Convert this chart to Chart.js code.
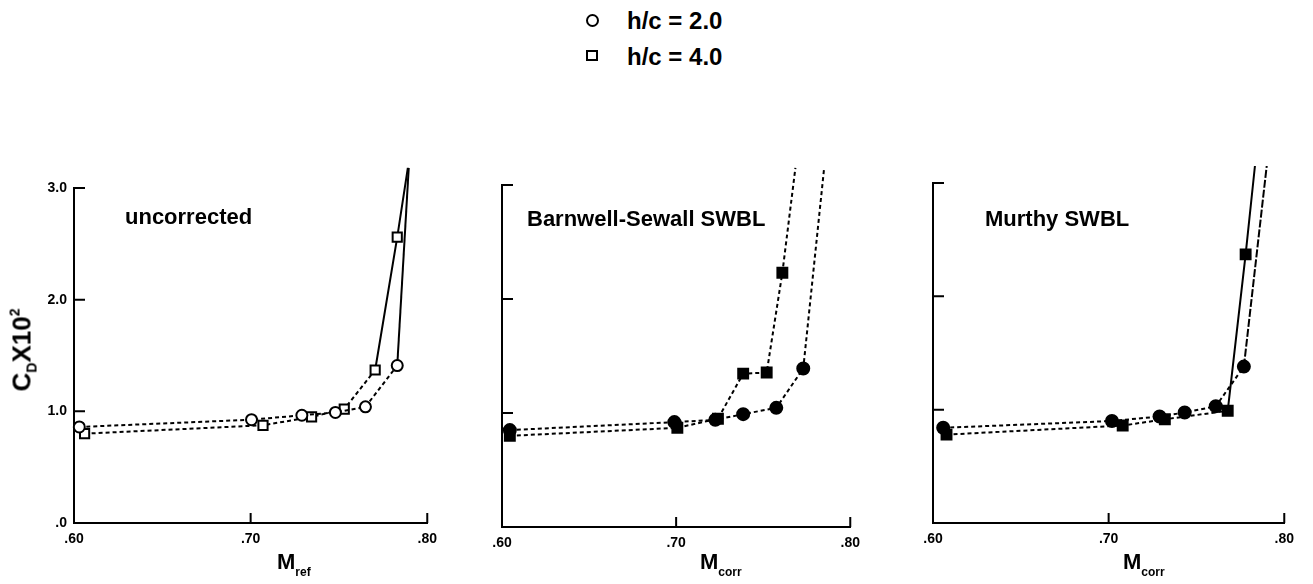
<!DOCTYPE html>
<html>
<head>
<meta charset="utf-8">
<script src="https://cdn.jsdelivr.net/npm/chart.js@4.4.1/dist/chart.umd.min.js"></script>
<style>
  body { margin:0; background:#fff; width:1313px; height:584px; position:relative; overflow:hidden;
         font-family:"Liberation Sans", Arial, sans-serif; color:#000; }
  canvas { position:absolute; top:140px; }
  .txt { position:absolute; font-weight:bold; white-space:nowrap; line-height:1; }
  .big { font-size:22px; }
  .leg { font-size:24px; }
  .mt { font-size:22px; }
  .mt sub { font-size:12px; vertical-align:-7px; }
  .ytitle { left:23px; top:350px; font-size:26px; transform:translate(-50%,-50%) rotate(-90deg); }
  .ytitle sub { font-size:14px; vertical-align:-6px; }
  .ytitle sup { font-size:14px; vertical-align:11px; }
  .sym { position:absolute; border:2.5px solid #000; box-sizing:border-box; }
</style>
</head>
<body>

<!-- legend -->
<div class="sym" style="left:586px;top:14px;width:13px;height:13px;border-radius:50%"></div>
<div class="txt leg" style="left:627px;top:9px">h/c = 2.0</div>
<div class="sym" style="left:586px;top:50px;width:12px;height:11px"></div>
<div class="txt leg" style="left:627px;top:45px">h/c = 4.0</div>

<canvas id="c1" width="445" height="444" style="left:0px"></canvas>
<canvas id="c2" width="408" height="444" style="left:460px"></canvas>
<canvas id="c3" width="412" height="444" style="left:890px"></canvas>

<div class="txt big" style="left:125px;top:206px">uncorrected</div>
<div class="txt big" style="left:527px;top:208px">Barnwell-Sewall SWBL</div>
<div class="txt big" style="left:985px;top:208px">Murthy SWBL</div>

<div class="txt ytitle">C<sub>D</sub>X10<sup>2</sup></div>
<div class="txt mt" style="left:277px;top:551px">M<sub>ref</sub></div>
<div class="txt mt" style="left:700px;top:551px">M<sub>corr</sub></div>
<div class="txt mt" style="left:1123px;top:551px">M<sub>corr</sub></div>

<script>
// uncorrected, h/c = 2.0 (circles) and h/c = 4.0 (squares)
const machRefCirc = [0.603, 0.7005, 0.729, 0.748, 0.765, 0.783, 0.7895];
const cdRefCirc   = [0.86, 0.925, 0.965, 0.99, 1.04, 1.41, 3.18];
const machRefSq   = [0.606, 0.707, 0.7345, 0.753, 0.7705, 0.783, 0.789];
const cdRefSq     = [0.80, 0.875, 0.95, 1.02, 1.37, 2.56, 3.18];

// Barnwell-Sewall SWBL
const machBsCirc = [0.6045, 0.699, 0.7225, 0.7385, 0.7575, 0.773, 0.785];
const cdBsCirc   = [0.85, 0.92, 0.94, 0.99, 1.045, 1.39, 3.15];
const machBsSq   = [0.6045, 0.7007, 0.724, 0.7385, 0.752, 0.761, 0.7685];
const cdBsSq     = [0.80, 0.87, 0.95, 1.345, 1.355, 2.23, 3.15];

// Murthy SWBL
const machMuCirc = [0.6058, 0.7019, 0.729, 0.7433, 0.761, 0.777, 0.790];
const cdMuCirc   = [0.84, 0.90, 0.94, 0.975, 1.03, 1.38, 3.15];
const machMuSq   = [0.6077, 0.708, 0.732, 0.7678, 0.778, 0.7833];
const cdMuSq     = [0.78, 0.86, 0.915, 0.99, 2.37, 3.15];

// axis ticks
const xTicks = [0.6, 0.7, 0.8];
const xTickLabels = ['.60', '.70', '.80'];
const yTicks = [0, 1, 2, 3];
const yTickLabels = ['.0', '1.0', '2.0', '3.0'];

const FONT = '"Liberation Sans", Arial, sans-serif';
const toPts = (xs, ys) => xs.map((x, i) => ({x: x, y: ys[i]}));

// line through the points, dashed up to solidFrom, last point is just the line end
function series(xs, ys, shape, filled, r, solidFrom, solidDash) {
    const n = xs.length;
    return {
        data: toPts(xs, ys),
        showLine: true,
        clip: false,
        tension: 0,
        borderColor: '#000',
        borderWidth: 2,
        pointStyle: shape,
        pointBackgroundColor: filled ? '#000' : '#fff',
        pointBorderColor: '#000',
        pointBorderWidth: 2,
        pointRadius: ctx => ctx.dataIndex === n - 1 ? 0 : r,
        segment: {
            borderDash: ctx => ctx.p0DataIndex >= solidFrom ? (solidDash || []) : [4, 3]
        }
    };
}

// tick marks pointing into the plot
const innerTicks = {
    id: 'innerTicks',
    afterDatasetsDraw(chart) {
        const {ctx, chartArea: a, scales: {x, y}} = chart;
        ctx.save();
        ctx.strokeStyle = '#000';
        ctx.lineWidth = 2;
        ctx.beginPath();
        x.ticks.forEach(t => {
            const px = x.getPixelForValue(t.value);
            ctx.moveTo(px, a.bottom);
            ctx.lineTo(px, a.bottom - 10);
        });
        y.ticks.forEach(t => {
            const py = y.getPixelForValue(t.value);
            ctx.moveTo(a.left, py);
            ctx.lineTo(a.left + 11, py);
        });
        ctx.stroke();
        ctx.restore();
    }
};

function makePanel(id, sets, box, showY) {
    new Chart(document.getElementById(id), {
        type: 'scatter',
        data: { datasets: sets },
        options: {
            responsive: false,
            animation: false,
            layout: { padding: { top: box.padTop, right: box.padRight, left: 0, bottom: 0 } },
            plugins: { legend: { display: false }, tooltip: { enabled: false } },
            scales: {
                x: {
                    type: 'linear', min: 0.6, max: 0.8,
                    afterBuildTicks: s => { s.ticks = xTicks.map(v => ({value: v})); },
                    afterFit: s => { s.height = box.axisH; },
                    grid: { drawOnChartArea: false, drawTicks: false, color: '#000' },
                    border: { color: '#000', width: 2 },
                    ticks: {
                        padding: 8, color: '#000', maxRotation: 0,
                        font: { family: FONT, size: 14, weight: 'bold' },
                        callback: (v, i) => xTickLabels[i]
                    }
                },
                y: {
                    type: 'linear', min: 0, max: 3,
                    afterBuildTicks: s => { s.ticks = yTicks.map(v => ({value: v})); },
                    afterFit: s => { s.width = box.axisW; },
                    grid: { drawOnChartArea: false, drawTicks: false, color: '#000' },
                    border: { color: '#000', width: 2 },
                    ticks: {
                        display: showY, padding: 7, color: '#000',
                        font: { family: FONT, size: 14, weight: 'bold' },
                        callback: (v, i) => yTickLabels[i]
                    }
                }
            }
        },
        plugins: [innerTicks]
    });
}

makePanel('c1', [
    series(machRefCirc, cdRefCirc, 'circle', false, 5.5, 5),
    series(machRefSq, cdRefSq, 'rect', false, 6.5, 4)
], { axisW: 74, axisH: 61, padTop: 48, padRight: 15 }, true);

makePanel('c2', [
    series(machBsCirc, cdBsCirc, 'circle', true, 6, 99),
    series(machBsSq, cdBsSq, 'rect', true, 7, 99)
], { axisW: 42, axisH: 57, padTop: 45, padRight: 15 }, false);

makePanel('c3', [
    series(machMuCirc, cdMuCirc, 'circle', true, 6, 5, [8, 2]),
    series(machMuSq, cdMuSq, 'rect', true, 7, 3)
], { axisW: 43, axisH: 61, padTop: 43, padRight: 15 }, false);
</script>
</body>
</html>
